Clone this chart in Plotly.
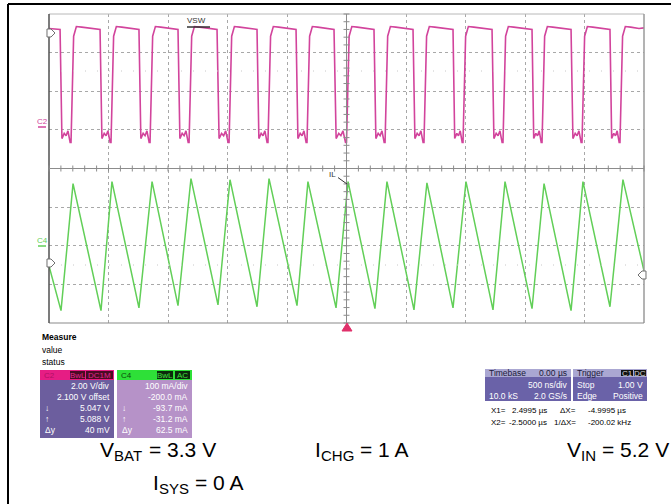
import plotly.graph_objects as go

W, H = 671, 504

# ---------------- data ----------------
# scope settings
time_div_ns = 500            # 500 ns/div, 10 divisions, trigger at centre
c2_volt_div = 2.0            # C2 (VSW) 2.00 V/div
c2_offset_v = 2.1            # 2.100 V offset
c4_ma_div = 100.0            # C4 (IL) 100 mA/div
c4_offset_ma = -200.0        # -200.0 mA offset

# VSW switching edges (ns)
vsw_fall_ns = [-2407, -2071, -1744, -1416, -1088, -752, -424, -105,
               231, 559, 895, 1223, 1559, 1887, 2214]
vsw_rise_ns = [-2315, -1979, -1651, -1323, -987, -660, -332, 0,
               324, 651, 979, 1315, 1643, 1979, 2298]
# VSW level detail while low (fraction of low time, volts)
vsw_low_frac = [0.0, 0.17, 0.38, 0.55, 0.72, 0.92, 1.0]
vsw_low_v = [5.10, -0.55, -0.28, -0.40, -0.15, -0.75, -0.75]
# VSW level detail after the rising edge (ns after edge, volts)
vsw_high_dt = [22, 45, 90, 160]
vsw_high_v = [4.75, 5.25, 5.22, 5.15]
vsw_start_v = 5.15
vsw_end_v = 5.18

# Inductor current IL (C4) turning points
il_start = (-2500, -52)
il_valley_ns = [-2399, -2063, -1744, -1416, -1080, -752, -416, -88,
                239, 567, 895, 1231, 1559, 1887, 2214]
il_valley_ma = [-168, -168, -161, -155, -153, -158, -155, -161,
                -163, -166, -161, -166, -163, -168, -158]
il_peak_ns = [-2298, -1971, -1634, -1307, -979, -651, -324, 13,
              340, 676, 1004, 1332, 1660, 1987, 2323]
il_peak_ma = [161, 166, 166, 174, 171, 174, 166, 166,
              166, 163, 166, 166, 161, 166, 171]
il_end = (2500, -65)

# measurement panel texts
c2_rows = [("", "2.00 V/div"), ("", "2.100 V offset"), ("↓", "5.047 V"),
           ("↑", "5.088 V"), ("Δy", "40 mV")]
c4_rows = [("", "100 mA/div"), ("", "-200.0 mA"), ("↓", "-93.7 mA"),
           ("↑", "-31.2 mA"), ("Δy", "62.5 mA")]
# operating conditions: (symbol, subscript, value)
cond_items = [("V", "BAT", "= 3.3 V"), ("I", "CHG", "= 1 A"),
              ("V", "IN", "= 5.2 V"), ("I", "SYS", "= 0 A")]

# ---------------- build traces ----------------
vx, vy = [-5 * time_div_ns], [vsw_start_v]
for tf, tr in zip(vsw_fall_ns, vsw_rise_ns):
    d = tr - tf
    for f, v in zip(vsw_low_frac, vsw_low_v):
        vx.append(tf + f * d)
        vy.append(v)
    for dt, v in zip(vsw_high_dt, vsw_high_v):
        vx.append(tr + dt)
        vy.append(v)
vx.append(5 * time_div_ns)
vy.append(vsw_end_v)

ix, iy = [il_start[0]], [il_start[1]]
for a, b, c, d in zip(il_valley_ns, il_valley_ma, il_peak_ns, il_peak_ma):
    ix += [a, c]
    iy += [b, d]
ix.append(il_end[0])
iy.append(il_end[1])

fig = go.Figure()
fig.add_trace(go.Scatter(x=vx, y=vy, mode="lines", yaxis="y",
                         line=dict(color="#d2449c", width=1.6), hoverinfo="skip"))
fig.add_trace(go.Scatter(x=ix, y=iy, mode="lines", yaxis="y2",
                         line=dict(color="#62cf58", width=1.5), hoverinfo="skip"))

# ---------------- layout ----------------
PL, PR, PT, PB = 49, 644, 14, 323
def px(x): return x / W
def py(y): return 1 - y / H

c2_center = -c2_offset_v
c4_center = -c4_offset_ma
fig.update_layout(
    width=W, height=H, margin=dict(l=0, r=0, t=0, b=0),
    paper_bgcolor="white", plot_bgcolor="white", showlegend=False,
    font=dict(family="Liberation Sans, Arial, sans-serif", color="black"),
    xaxis=dict(domain=[px(PL), px(PR)], range=[-5 * time_div_ns, 5 * time_div_ns],
               tick0=0, dtick=time_div_ns, showgrid=True, gridcolor="#a8a8a8",
               griddash="dot", gridwidth=1, zeroline=False, showticklabels=False,
               ticks="", showline=False, fixedrange=True),
    yaxis=dict(domain=[py(PB), py(PT)],
               range=[c2_center - 4 * c2_volt_div, c2_center + 4 * c2_volt_div],
               tick0=c2_center, dtick=c2_volt_div, showgrid=True, gridcolor="#a8a8a8",
               griddash="dot", gridwidth=1, zeroline=False, showticklabels=False,
               ticks="", showline=False, fixedrange=True),
    yaxis2=dict(overlaying="y", range=[c4_center - 4 * c4_ma_div, c4_center + 4 * c4_ma_div],
                showgrid=False, zeroline=False, showticklabels=False, ticks="",
                showline=False, fixedrange=True),
)

shapes = []
def rect(x0, y0, x1, y1, fill, line=None):
    shapes.append(dict(type="rect", xref="paper", yref="paper",
                       x0=px(x0), x1=px(x1), y0=py(y1), y1=py(y0),
                       fillcolor=fill, line=dict(width=0) if line is None else line,
                       layer="below"))
def pline(x0, y0, x1, y1, color, width=1, dash=None):
    d = dict(color=color, width=width)
    if dash:
        d["dash"] = dash
    shapes.append(dict(type="line", xref="paper", yref="paper",
                       x0=px(x0), x1=px(x1), y0=py(y0), y1=py(y1), line=d))
def path(pts, fill, color, width=1):
    s = "M " + " L ".join(f"{px(a):.5f},{py(b):.5f}" for a, b in pts) + " Z"
    shapes.append(dict(type="path", xref="paper", yref="paper", path=s,
                       fillcolor=fill, line=dict(color=color, width=width)))

# outer frame
pline(8, 4, 671, 4, "black", 2)
pline(8, 4, 8, 504, "black", 2)

# faint half-division dot rows
for yy in (71, 265):
    pline(PL, yy, PR, yy, "#c8c8c8", 1, "1px,11px")

# plot border
pline(PL, PT, PR, PT, "#b8b8b8", 1)
pline(PR, PT, PR, PB, "#9a9a9a", 1.5)
pline(PL, PB, PR, PB, "#8a8a8a", 1.2)
pline(PL, PT, PL, PB, "#505050", 1.5)

# centre axes with minor ticks
yc = (PT + PB) / 2
xc = (PL + PR) / 2
pline(PL, yc, PR, yc, "#8c8c8c", 1)
pline(xc, PT, xc, PB, "#8c8c8c", 1)
n_minor_x = 50
for k in range(n_minor_x + 1):
    x = PL + (PR - PL) * k / n_minor_x
    pline(x, yc - 3, x, yc + 3, "#8c8c8c", 1)
n_minor_y = 40
for k in range(n_minor_y + 1):
    y = PT + (PB - PT) * k / n_minor_y
    pline(xc - 3, y, xc + 3, y, "#8c8c8c", 1)

# channel markers on the edges
path([(47, 29), (51, 29), (55, 33), (51, 37), (47, 37)], "white", "#707070", 1)
path([(47, 259), (51, 259), (55, 263), (51, 267), (47, 267)], "white", "#707070", 1)
path([(646, 271), (642, 271), (638, 275), (642, 279), (646, 279)], "white", "#707070", 1)
# trigger position marker
path([(342, 331), (352, 331), (347, 323)], "#e0306a", "#e0306a", 1)
# VSW label underline
pline(187, 27, 210, 27, "#333333", 1.5)
# channel ground markers
pline(38, 127, 46, 127, "#d2449c", 1.5)
pline(38, 246, 46, 246, "#62cf58", 1.5)

# ---------------- panels ----------------
ann = []
FONT = "Liberation Sans, Arial, sans-serif"
def text(x, y, s, size=8.5, color="black", anchor="left", bold=False, vanchor="middle"):
    ann.append(dict(x=px(x), y=py(y), xref="paper", yref="paper", text=s,
                    showarrow=False, xanchor=anchor, yanchor=vanchor,
                    font=dict(size=size, color=color, family=FONT,
                              weight="bold" if bold else "normal")))

text(40, 337, "Measure", 8.5, bold=True)
text(40, 350, "value", 8.5)
text(40, 362, "status", 8.5)

# C2 box
rect(40, 370, 114, 380, "#e61d84")
rect(40, 380, 114, 438, "#6c5e9e")
rect(70, 371, 85, 379, "#4a0b24")
rect(86, 371, 113, 379, "#4a0b24")
text(42, 375, "C2", 8, "#b01066")
text(77.5, 375, "BwL", 8, "#e2288c", "center")
text(99.5, 375, "DC1M", 8, "#e2288c", "center")
# C4 box
rect(117, 370, 192, 380, "#2ee038")
rect(117, 380, 192, 438, "#b692c8")
rect(157, 371, 173, 379, "#0c2a0c")
rect(175, 371, 190, 379, "#0c2a0c")
text(119, 375, "C4", 8, "#0a4a0a")
text(165, 375, "BwL", 8, "#40e040", "center")
text(182.5, 375, "AC", 8, "#40e040", "center")

row_y = [386, 397, 408, 419, 430]
for (lab, val), y in zip(c2_rows, row_y):
    if lab:
        text(43, y, lab, 8.5, "white")
    text(112, y, val, 8.5, "white", "right")
for (lab, val), y in zip(c4_rows, row_y):
    if lab:
        text(120, y, lab, 8.5, "white")
    text(190, y, val, 8.5, "white", "right")

# Timebase box
rect(485, 369, 571, 377, "#aaa7d2")
rect(485, 377, 571, 401, "#6a62a8")
text(487, 373, "Timebase", 8.5, "#1a1a3a")
text(569, 373, "0.00 µs", 8.5, "#1a1a3a", "right")
text(569, 385, "500 ns/div", 8.5, "white", "right")
text(487, 396, "10.0 kS", 8.5, "white")
text(569, 396, "2.0 GS/s", 8.5, "white", "right")
# Trigger box
rect(573, 369, 647, 377, "#aaa7d2")
rect(573, 377, 647, 401, "#6a62a8")
rect(621, 370, 633, 376, "#111111")
rect(634, 370, 646, 376, "#111111")
text(575, 373, "Trigger", 8.5, "#1a1a3a")
text(627, 373, "C1", 8, "#d8d8d8", "center")
text(640, 373, "DC", 8, "#d8d8d8", "center")
text(575, 385, "Stop", 8.5, "white")
text(645, 385, "1.00 V", 8.5, "white", "right")
text(575, 396, "Edge", 8.5, "white")
text(645, 396, "Positive", 8.5, "white", "right")

# cursor readout
text(489, 410, "X1=", 8)
text(549, 410, "2.4995 µs", 8, anchor="right")
text(578, 410, "ΔX=", 8, anchor="right")
text(586, 410, "-4.9995 µs", 8)
text(489, 422, "X2=", 8)
text(549, 422, "-2.5000 µs", 8, anchor="right")
text(578, 422, "1/ΔX=", 8, anchor="right")
text(586, 422, "-200.02 kHz", 8)

# waveform labels
text(196, 21, "VSW", 8, "#333333", "center")
text(42, 121, "C2", 8, "#d2449c", "center")
text(42, 240, "C4", 8, "#62cf58", "center")
ann.append(dict(x=px(347), y=py(184), xref="paper", yref="paper", text="IL",
                showarrow=True, arrowhead=0, arrowwidth=1, arrowcolor="#333333",
                ax=-14, ay=-10, font=dict(size=8, color="#333333", family=FONT)))

# operating conditions (symbol + subscript + value as separate texts)
ADV = {"V": .667, "I": .278, "B": .667, "A": .667, "T": .611, "C": .722,
       "H": .722, "G": .778, "N": .722, "S": .667, "Y": .667, " ": .278,
       "=": .584, ".": .278}
def tw(s, size):
    return sum(ADV.get(ch, .556) for ch in s) * size
MAIN, SUB = 21, 15
def cond(x, y, sym, sub, val, right=False):
    total = tw(sym, MAIN) + tw(sub, SUB) + tw(" " + val, MAIN)
    if right:
        x = x - total
    text(x, y, sym, MAIN)
    x1 = x + tw(sym, MAIN)
    text(x1, y + 6, sub, SUB)
    x2 = x1 + tw(sub, SUB) + tw(" ", MAIN)
    text(x2, y, val, MAIN)

cond_pos = [(98, 449, False), (313, 449, False), (667, 449, True), (151, 482, False)]
for (sym, sub, val), (x, y, r) in zip(cond_items, cond_pos):
    cond(x, y, sym, sub, val, r)

fig.update_layout(shapes=shapes, annotations=ann)
fig.write_html("out.html", config={"displayModeBar": False},
               post_script="document.body.style.margin='0';"
                           "document.body.style.overflow='hidden';")
